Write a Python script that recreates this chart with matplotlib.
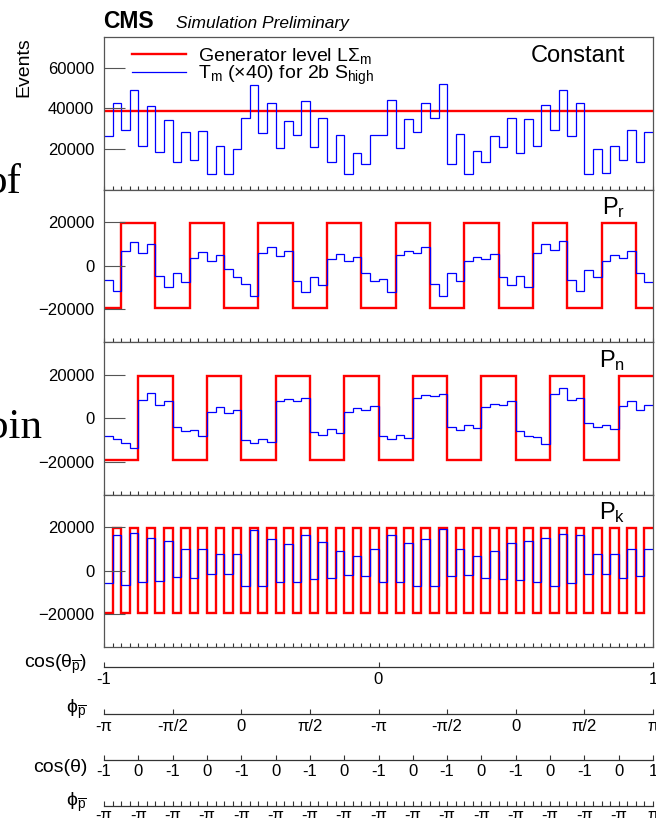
import numpy as np
import matplotlib.pyplot as plt
from matplotlib.lines import Line2D

plt.rcParams['font.family'] = ['Liberation Sans', 'DejaVu Sans']
plt.rcParams['mathtext.fontset'] = 'custom'
plt.rcParams['mathtext.rm'] = 'Liberation Sans'
plt.rcParams['mathtext.it'] = 'Liberation Sans:italic'
plt.rcParams['mathtext.bf'] = 'Liberation Sans:bold'

# 64 unrolled bins: cos(theta_pbar) x phi_pbar x cos(theta) x phi
edges = np.arange(65)

# generator level L*Sigma_m
H, L = 19400, -19300
const_gen = [38800] * 64
pr_gen = [L, L, H, H, H, H, L, L, L, L, H, H, H, H, L, L,
          L, L, H, H, H, H, L, L, L, L, H, H, H, H, L, L,
          L, L, H, H, H, H, L, L, L, L, H, H, H, H, L, L,
          L, L, H, H, H, H, L, L, L, L, H, H, H, H, L, L]
pn_gen = [L, L, L, L, H, H, H, H, L, L, L, L, H, H, H, H,
          L, L, L, L, H, H, H, H, L, L, L, L, H, H, H, H,
          L, L, L, L, H, H, H, H, L, L, L, L, H, H, H, H,
          L, L, L, L, H, H, H, H, L, L, L, L, H, H, H, H]
pk_gen = [L, H, L, H, L, H, L, H, L, H, L, H, L, H, L, H,
          L, H, L, H, L, H, L, H, L, H, L, H, L, H, L, H,
          L, H, L, H, L, H, L, H, L, H, L, H, L, H, L, H,
          L, H, L, H, L, H, L, H, L, H, L, H, L, H, L, H]

# T_m (x40) for 2b S_high
const_tm = [26500, 42300, 29500, 49000, 21600, 41000, 18500, 34100, 13600, 28200,
            14600, 28800, 7400, 21500, 7400, 19800, 35200, 51300, 27700, 42400,
            20300, 33600, 26700, 43600, 20800, 35400, 13600, 26700, 7400, 18000,
            12600, 26900, 26900, 44200, 20200, 34900, 28200, 42400, 35200, 51800,
            12600, 27200, 7400, 18800, 13600, 26400, 20800, 35200, 18000, 34900,
            21600, 41600, 29500, 49000, 26500, 42300, 7400, 19700, 7900, 21600,
            14600, 29300, 13300, 28200]
pr_tm = [-6500, -11700, 6900, 11100, 5900, 9800, -4500, -9800, -3500, -7400,
         3600, 6300, 2300, 5000, -1700, -5000, -8300, -13800, 5900, 8600,
         4500, 6900, -6900, -12200, -5000, -9000, 3300, 5300, 2400, 3800,
         -3300, -6800, -6300, -12200, 5000, 6900, 6000, 8600, -8600, -14100,
         -3300, -6900, 2400, 3800, 3300, 5400, -5000, -9000, -4700, -9600,
         5900, 10200, 7400, 11300, -6500, -11700, -1800, -5100, 2400, 4800,
         3600, 6600, -3200, -7500]
pn_tm = [-8200, -9400, -11300, -13600, 8300, 11600, 6300, 8000, -4100, -6000,
         -5600, -8200, 2700, 5100, 2400, 3900, -10000, -11300, -9500, -10900,
         7700, 8800, 8000, 9500, -6300, -7600, -5100, -6800, 2700, 4500,
         3900, 5400, -8200, -9400, -7700, -8900, 9500, 10700, 10400, 11300,
         -4100, -5400, -2900, -4400, 5100, 6600, 6300, 7700, -5900, -8200,
         -8600, -11800, 11300, 13900, 8300, 9500, -2400, -3900, -2900, -5100,
         5400, 8000, 3800, 5900]
pk_tm = [-5700, 16300, -6600, 17100, -5200, 14900, -4500, 13700, -2900, 10000,
         -3400, 10000, -1700, 7700, -1700, 7700, -6900, 18800, -6900, 14600,
         -5200, 12300, -5200, 16300, -3700, 13100, -3400, 9200, -2000, 6800,
         -2500, 10000, -5200, 16600, -5200, 12600, -7100, 14600, -7100, 19100,
         -2500, 10000, -2000, 6800, -3400, 8900, -3700, 12900, -4200, 13700,
         -5200, 14900, -7100, 16900, -5700, 16200, -1700, 7900, -1700, 7900,
         -3400, 10000, -2500, 10000]

titles = ['Constant', 'P$_{\\mathrm{r}}$', 'P$_{\\mathrm{n}}$', 'P$_{\\mathrm{k}}$']
gens = [const_gen, pr_gen, pn_gen, pk_gen]
tms = [const_tm, pr_tm, pn_tm, pk_tm]
ylims = [(0, 75000), (-35000, 35000), (-35000, 35000), (-35000, 35000)]
yticks = [[20000, 40000, 60000], [-20000, 0, 20000], [-20000, 0, 20000], [-20000, 0, 20000]]

W_PX, H_PX = 656, 818
fig = plt.figure(figsize=(W_PX / 100, H_PX / 100), dpi=100)


def fy(px):
    return 1 - px / H_PX


x0, wid = 104 / W_PX, 549 / W_PX
top, ph = 37, 152.5
frame_col = '#555555'

axes = []
for i in range(4):
    ax = fig.add_axes([x0, fy(top + ph * (i + 1)), wid, ph / H_PX])
    ax.stairs(gens[i], edges, baseline=None, color='#ff0000', lw=1.7)
    ax.stairs(tms[i], edges, baseline=None, color='#0000ff', lw=0.9)
    ax.set_xlim(0, 64)
    ax.set_ylim(*ylims[i])
    ax.set_yticks(yticks[i])
    ax.set_xticks(edges)
    ax.set_xticklabels([])
    ax.tick_params(axis='y', direction='in', length=15, width=0.8, color=frame_col,
                   pad=7, labelsize=12)
    ax.tick_params(axis='x', direction='in', length=3, width=0.8, color='#333333')
    for s in ax.spines.values():
        s.set_color(frame_col)
        s.set_linewidth(0.9)
    ax.text(0.949, 1 - 25 / ph, titles[i], transform=ax.transAxes,
            ha='right', va='baseline', fontsize=17)
    axes.append(ax)

ax = axes[0]
ax.set_ylabel('Events', loc='top', fontsize=14)
ax.yaxis.set_label_coords(-72 / 549, 1.0)
handles = [Line2D([], [], color='#ff0000', lw=1.7), Line2D([], [], color='#0000ff', lw=0.9)]
ax.legend(handles, ['Generator level L\u03a3$_{\\mathrm{m}}$',
                    'T$_{\\mathrm{m}}$ (\u00d740) for 2b S$_{\\mathrm{high}}$'],
          loc='upper left', bbox_to_anchor=(28 / 549, 1 - 9 / ph), frameon=False,
          fontsize=14, handlelength=2.8, handletextpad=0.6, labelspacing=-0.1,
          borderaxespad=0, borderpad=0)

fig.text(103 / W_PX, fy(28), 'CMS', weight='bold', fontsize=16.5, va='baseline')
fig.text(176 / W_PX, fy(28), 'Simulation Preliminary', style='italic', fontsize=12.5,
         va='baseline')

# unrolled axis scales under the panels
pbar = '$_{\\overline{\\mathrm{p}}}$'
phi = '\u03d5'
scales = [
    (667, 'cos(\u03b8' + pbar + ')', 669, [0, 32, 64], ['-1', '0', '1'], None, 3.5),
    (714, phi + pbar, 714, list(range(0, 65, 8)),
     ['-\u03c0', '-\u03c0/2', '0', '\u03c0/2', '-\u03c0', '-\u03c0/2', '0', '\u03c0/2', '\u03c0'],
     None, 3.5),
    (759.5, 'cos(\u03b8)', 772, list(range(0, 65, 4)), ['-1', '0'] * 8 + ['1'], None, 3.5),
    (805.5, phi + pbar, 807, list(range(0, 65, 4)), ['-\u03c0'] * 16 + ['\u03c0'],
     list(range(65)), 1.5),
]
for ypx, name, base, ticks, labels, minor, pad in scales:
    sa = fig.add_axes([x0, fy(ypx), wid, 1e-4])
    sa.patch.set_visible(False)
    for k in ('top', 'left', 'right'):
        sa.spines[k].set_visible(False)
    sa.spines['bottom'].set_color('#333333')
    sa.spines['bottom'].set_linewidth(0.9)
    sa.set_yticks([])
    sa.set_xlim(0, 64)
    sa.set_xticks(ticks)
    sa.set_xticklabels(labels)
    if minor is not None:
        sa.set_xticks(minor, minor=True)
    sa.tick_params(axis='x', which='both', direction='in', length=3.5, width=0.8,
                   color='#333333', pad=pad, labelsize=12)
    fig.text(87 / W_PX, fy(base), name, ha='right', va='baseline', fontsize=14)

# cut-off words of the neighbouring page text
fig.text(-15 / W_PX, fy(193), 'of', family='Liberation Serif', fontsize=31, va='baseline')
fig.text(-13 / W_PX, fy(438), 'bin', family='Liberation Serif', fontsize=31, va='baseline')

fig.savefig('out.png', dpi=100)
